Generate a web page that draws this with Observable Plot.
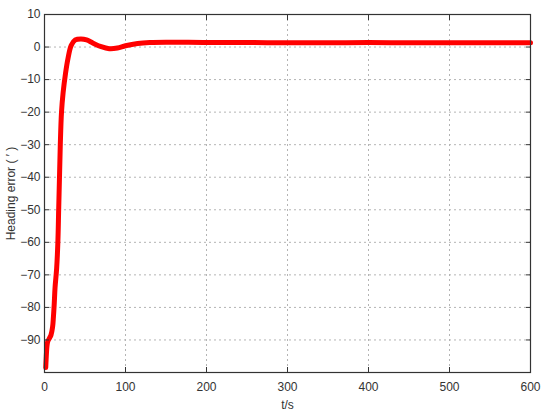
<!DOCTYPE html>
<html><head><meta charset="utf-8">
<script src="https://cdn.jsdelivr.net/npm/d3@7"></script>
<script src="https://cdn.jsdelivr.net/npm/@observablehq/plot@0.6"></script>
<style>body{margin:0;background:#fff}</style>
</head><body><div id="chart"></div>
<script>
const tValues = [1.5, 2, 3, 4, 6, 8, 10, 11, 12, 13, 15, 16.5, 17.5, 18.5, 19.5, 21, 23, 26, 29, 33, 38, 45, 52, 60, 70, 80, 90, 100, 115, 130, 150, 200, 250, 300, 350, 400, 450, 500, 550, 600];
const errValues = [-98.5, -96, -92, -90.5, -89.5, -88.5, -86, -83, -79, -74, -68, -60, -50, -40, -30, -20, -14, -8, -3.5, 0.5, 2.2, 2.5, 2.2, 1.2, 0.1, -0.5, -0.3, 0.4, 1.1, 1.4, 1.5, 1.4, 1.4, 1.3, 1.3, 1.4, 1.3, 1.3, 1.3, 1.3];
const xTicks = [0, 100, 200, 300, 400, 500, 600];
const yTicks = [-90, -80, -70, -60, -50, -40, -30, -20, -10, 0, 10];

const data = tValues.map((t, i) => ({t, e: errValues[i]}));
const font = "Liberation Sans, Arial, sans-serif";
const none = () => "";
const chart = Plot.plot({
  width: 550, height: 412,
  marginLeft: 44, marginRight: 20, marginTop: 14, marginBottom: 40,
  style: {fontFamily: font, fontSize: "12px", color: "#333", background: "#fff"},
  x: {domain: [0, 600]},
  y: {domain: [-100, 10]},
  marks: [
    Plot.gridX(xTicks, {stroke: "#b4b4b4", strokeOpacity: 1, strokeDasharray: "2,3"}),
    Plot.gridY(yTicks, {stroke: "#b4b4b4", strokeOpacity: 1, strokeDasharray: "2,3"}),
    Plot.line(data, {x: "t", y: "e", stroke: "#ff0000", strokeWidth: 5, curve: "catmull-rom"}),
    Plot.frame({stroke: "#333", strokeWidth: 1.2}),
    Plot.axisX(xTicks, {anchor: "bottom", tickSize: 0, tickPadding: 10, label: "t/s", labelAnchor: "center", labelArrow: "none", labelOffset: 36, fontSize: 12}),
    Plot.axisX(xTicks, {anchor: "bottom", tickSize: -5, tickFormat: none, label: null, stroke: "#333"}),
    Plot.axisX(xTicks, {anchor: "top", tickSize: -5, tickFormat: none, label: null, stroke: "#333"}),
    Plot.axisY(yTicks, {anchor: "left", tickSize: 0, tickPadding: 4, label: "Heading error ( ′ )", labelAnchor: "center", labelArrow: "none", labelOffset: 38, fontSize: 12}),
    Plot.axisY(yTicks, {anchor: "left", tickSize: -5, tickFormat: none, label: null, stroke: "#333"}),
    Plot.axisY(yTicks, {anchor: "right", tickSize: -5, tickFormat: none, label: null, stroke: "#333"})
  ]
});
document.getElementById("chart").appendChild(chart);
</script>
</body></html>
